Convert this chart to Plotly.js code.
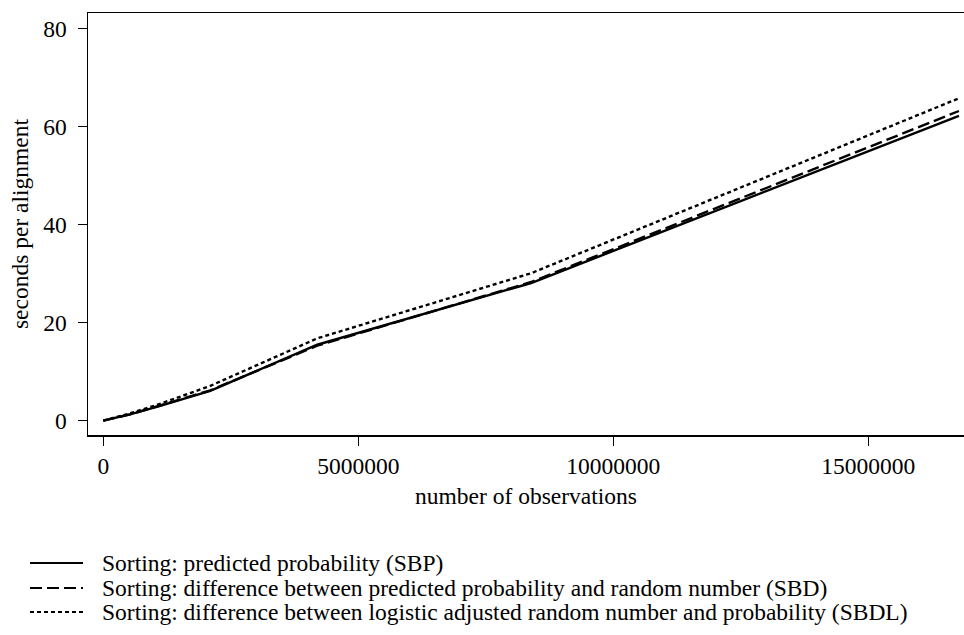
<!DOCTYPE html>
<html><head><meta charset="utf-8">
<script src="https://cdn.plot.ly/plotly-3.0.1.min.js"></script>
<style>html,body{margin:0;padding:0;background:#fff}#chart{width:964px;height:635px}</style>
</head><body><div id="chart"></div>
<script>
const observations = [0, 262144, 524288, 1048576, 2097152, 4194304, 8388608, 16777216];
const sbp  = [0, 0.6, 1.3, 2.8, 6.1, 15.5, 28.1, 62.2];
const sbd  = [0, 0.6, 1.3, 2.9, 6.2, 15.3, 28.3, 63.2];
const sbdl = [0, 0.7, 1.5, 3.2, 7.1, 16.8, 30.1, 65.8];
const seriesNames = [
  "Sorting: predicted probability (SBP)",
  "Sorting: difference between predicted probability and random number (SBD)",
  "Sorting: difference between logistic adjusted random number and probability (SBDL)"
];
const dashes = ["solid", "12px,5px", "4px,3px"];
const xTicks = [0, 5000000, 10000000, 15000000];
const yTicks = [0, 20, 40, 60, 80];

const W = 964, H = 635, L = 88, R = 0, T = 13, B = 200;
const pw = W - L - R, ph = H - T - B;
const px2x = p => (p - L) / pw;
const py2y = p => (H - B - p) / ph;

const series = [sbp, sbd, sbdl];
const traces = series.map((ys, i) => ({
  x: observations, y: ys, type: 'scatter', mode: 'lines', name: seriesNames[i],
  line: {color: '#000', width: 2.4, dash: dashes[i]}, showlegend: false
}));

const font = {family: 'Liberation Serif, Times New Roman, serif', size: 23.5, color: '#000'};
const rowsY = [563, 588, 612];
const shapes = rowsY.map((py, i) => ({
  type: 'line', xref: 'paper', yref: 'paper',
  x0: px2x(30), x1: px2x(83), y0: py2y(py), y1: py2y(py),
  line: {color: '#000', width: 2.2, dash: dashes[i]}
}));
const annotations = rowsY.map((py, i) => ({
  xref: 'paper', yref: 'paper', x: px2x(100), y: py2y(py),
  xanchor: 'left', yanchor: 'middle', showarrow: false, text: seriesNames[i], font: font
}));

const layout = {
  width: W, height: H, margin: {l: L, r: R, t: T, b: B, pad: 0},
  paper_bgcolor: '#fff', plot_bgcolor: '#fff', font: font, showlegend: false,
  xaxis: {range: [-300000, 16876000], tickvals: xTicks, ticktext: xTicks.map(String),
    ticks: 'outside', ticklen: 9, tickwidth: 1.2, tickcolor: '#000',
    showline: true, linecolor: '#000', linewidth: 1.5, mirror: true,
    showgrid: false, zeroline: false, tickfont: font,
    title: {text: 'number of observations', font: font, standoff: 10}},
  yaxis: {range: [-2.92, 83.2], tickvals: yTicks, ticks: 'outside', ticklen: 9,
    tickwidth: 1.2, tickcolor: '#000', showline: true, linecolor: '#000', linewidth: 1.5,
    showgrid: false, zeroline: false, tickfont: font, ticklabelstandoff: 6,
    title: {text: 'seconds per alignment', font: font, standoff: 8}},
  shapes: shapes, annotations: annotations
};
Plotly.newPlot('chart', traces, layout, {displayModeBar: false, staticPlot: true});
</script></body></html>
